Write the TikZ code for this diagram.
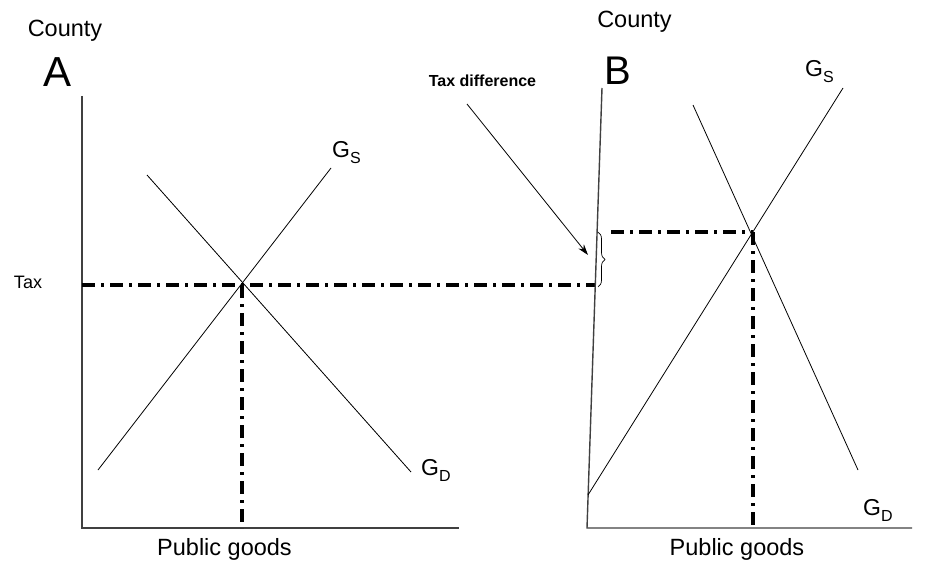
\documentclass[tikz,border=0pt]{standalone}
\usepackage{fontspec}
\setmainfont{Liberation Sans}
\usetikzlibrary{arrows.meta,decorations.pathreplacing}
\tikzset{
  axisline/.style={line width=1.4pt, black!75},
  curveline/.style={line width=0.8pt, black},
  dashdotline/.style={line width=3.2pt, black, dash pattern=on 13pt off 6pt on 3pt off 6pt},
  lbl/.style={inner sep=0pt, anchor=base},
  glbl/.style={inner sep=0pt, anchor=base west, font=\fontsize{23}{23}\selectfont},
}
\newcommand{\gsub}[1]{G\raisebox{-6pt}{\fontsize{16}{16}\selectfont #1}}
\begin{document}
\begin{tikzpicture}[x=1pt,y=-1pt]
\useasboundingbox (0,0) rectangle (938,567);
% ---------- Panel A ----------
\coordinate (aTop) at (82,96);
\coordinate (aO) at (82,528);
\coordinate (aRight) at (459,528);
\draw[axisline] (aTop) -- (aO) -- (aRight);
\coordinate (aS1) at (98,470);
\coordinate (aS2) at (331,168);
\coordinate (aD1) at (147,175);
\coordinate (aD2) at (411,472);
\draw[curveline] (aS1) -- (aS2);
\draw[curveline] (aD1) -- (aD2);
\coordinate (aEq) at (242,285);
\coordinate (aEqBase) at (242,528);
\coordinate (aAxisTax) at (82,285);
\coordinate (bAxisTax) at (596,285);
\draw[dashdotline] (aAxisTax) -- (bAxisTax);
\draw[dashdotline] (aEq) -- (aEqBase);
\node[lbl, font=\fontsize{23.5}{23.5}\selectfont] (countyA) at (65,37) {County};
\node[lbl, font=\fontsize{42}{42}\selectfont] (labA) at (57.5,87) {A};
\node[lbl, font=\fontsize{18}{18}\selectfont] (tax) at (28,288) {Tax};
\node[glbl] (gsA) at (332,158) {\gsub{S}};
\node[glbl] (gdA) at (421,475) {\gsub{D}};
\node[lbl, font=\fontsize{23.5}{23.5}\selectfont] (pgA) at (224.5,555) {Public goods};
% ---------- Panel B ----------
\coordinate (bTop) at (602,88);
\coordinate (bO) at (587,528);
\coordinate (bRight) at (912,528);
\draw[axisline] (bTop) -- (bO) -- (bRight);
\coordinate (bS1) at (588,495);
\coordinate (bS2) at (843,88);
\coordinate (bD1) at (693,105);
\coordinate (bD2) at (858,470);
\draw[curveline] (bS1) -- (bS2);
\draw[curveline] (bD1) -- (bD2);
\coordinate (bEq) at (753,232);
\coordinate (bEqBase) at (753,528);
\coordinate (bBraceR) at (611,232);
\draw[dashdotline] (bBraceR) -- (bEq);
\draw[dashdotline] (bEq) -- (bEqBase);
\coordinate (brTop) at (598,232);
\coordinate (brBot) at (598,287);
\draw[line width=0.7pt, decorate, decoration={brace, amplitude=7pt}] (brTop) -- (brBot);
\node[lbl, font=\fontsize{23.5}{23.5}\selectfont] (countyB) at (634.5,28) {County};
\node[lbl, font=\fontsize{40}{40}\selectfont] (labB) at (618,85) {B};
\node[glbl] (gsB) at (805,77) {\gsub{S}};
\node[glbl] (gdB) at (863,515) {\gsub{D}};
\node[lbl, font=\fontsize{23.5}{23.5}\selectfont] (pgB) at (737,555) {Public goods};
% ---------- Tax difference ----------
\node[lbl, font=\bfseries\fontsize{16}{16}\selectfont] (taxdiff) at (482.5,87) {Tax difference};
\coordinate (arrS) at (467,104);
\coordinate (arrE) at (588,255);
\draw[line width=0.8pt, -{Stealth[length=11pt,width=7pt]}] (arrS) -- (arrE);
\end{tikzpicture}
\end{document}
